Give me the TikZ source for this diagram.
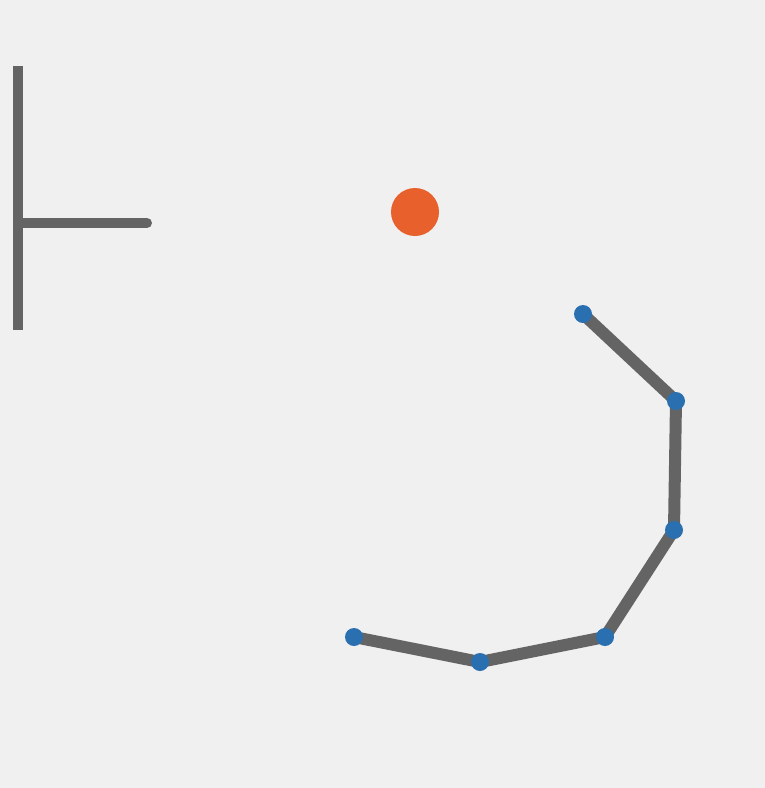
\documentclass[tikz,border=0pt]{standalone}
\definecolor{bgc}{HTML}{F0F0F0}
\definecolor{barc}{HTML}{646464}
\definecolor{orc}{HTML}{E8602C}
\definecolor{blc}{HTML}{2A70B0}
\begin{document}
\begin{tikzpicture}[x=1pt,y=-1pt,
  bar/.style={draw=barc,line width=10pt},
  link/.style={draw=barc,line width=12pt},
  joint/.style={circle,fill=blc,inner sep=0pt,minimum size=18pt},
  ball/.style={circle,fill=orc,inner sep=0pt,minimum size=48pt}]
\fill[bgc] (0,0) rectangle (765,788);
\useasboundingbox (0,0) rectangle (765,788);
\coordinate (vt) at (18,66);
\coordinate (vb) at (18,330);
\coordinate (hl) at (18,223);
\coordinate (hr) at (147,223);
\draw[bar,line cap=butt] (vt) -- (vb);
\draw[bar,line cap=round] (hl) -- (hr);
\node[ball] (b) at (415,212) {};
\coordinate (p1) at (583,314);
\coordinate (p2) at (676,401);
\coordinate (p3) at (674,530);
\coordinate (p4) at (605,637);
\coordinate (p5) at (480,662);
\coordinate (p6) at (354,637);
\draw[link,line join=round] (p1) -- (p2) -- (p3) -- (p4) -- (p5) -- (p6);
\foreach \p in {p1,p2,p3,p4,p5,p6} \node[joint] (j\p) at (\p) {};
\end{tikzpicture}
\end{document}
